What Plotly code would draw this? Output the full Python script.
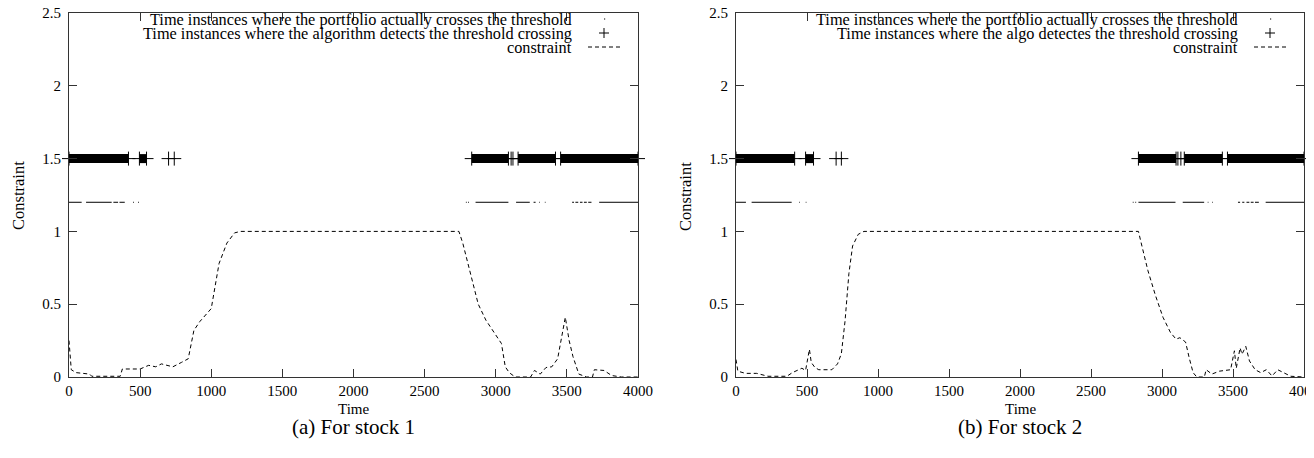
import plotly.graph_objects as go

# ---- data ----
CROSS_LEVEL = 1.2    # y level where real threshold crossings are marked
DETECT_LEVEL = 1.5   # y level where detected crossings are marked

stock1_time = [0, 16, 50, 145, 160, 360, 375, 500, 560, 610, 650, 700, 730, 790, 838, 878, 919, 1000, 1055, 1110,
               1164, 1205, 2741, 2768, 2822, 2877, 2931, 2986, 3040, 3067, 3095, 3136, 3245, 3272, 3313, 3353, 3394,
               3435, 3462, 3489, 3516, 3543, 3584, 3638, 3680, 3693, 3761, 3815, 3883, 4000]
stock1_constraint = [0.25, 0.05, 0.03, 0.02, 0.005, 0.005, 0.055, 0.055, 0.08, 0.07, 0.09, 0.08, 0.07, 0.1, 0.125,
                     0.32, 0.38, 0.47, 0.78, 0.92, 0.99, 1.0, 1.0, 0.92, 0.71, 0.5, 0.39, 0.31, 0.23, 0.07, 0.03, 0.0,
                     0.0, 0.045, 0.02, 0.065, 0.07, 0.125, 0.27, 0.41, 0.25, 0.14, 0.02, 0.0, 0.0, 0.05, 0.045, 0.01,
                     0.0, 0.0]

stock2_time = [0, 13, 66, 146, 225, 358, 397, 464, 490, 517, 530, 556, 583, 675, 715, 742, 768, 795, 821, 861, 901,
               2834, 2861, 2901, 2954, 3007, 3060, 3099, 3126, 3166, 3192, 3219, 3245, 3298, 3311, 3351, 3404, 3457,
               3483, 3510, 3523, 3550, 3563, 3590, 3616, 3656, 3695, 3735, 3775, 3815, 3854, 3907, 4000]
stock2_constraint = [0.12, 0.04, 0.025, 0.025, 0.005, 0.005, 0.03, 0.06, 0.045, 0.19, 0.1, 0.065, 0.05, 0.05, 0.09,
                     0.16, 0.385, 0.71, 0.9, 0.98, 1.0, 1.0, 0.89, 0.73, 0.56, 0.41, 0.305, 0.26, 0.27, 0.24, 0.13,
                     0.03, 0.0, 0.0, 0.05, 0.02, 0.04, 0.05, 0.05, 0.18, 0.06, 0.2, 0.156, 0.21, 0.11, 0.05, 0.03,
                     0.05, 0.007, 0.05, 0.03, 0.005, 0.0]

# runs of time steps where the portfolio actually crosses the threshold
stock1_cross_start = [0, 120, 312, 355, 450, 486, 2790, 2806, 2858, 3143, 3266, 3304, 3345, 3537, 3560, 3592, 3620,
                      3650, 3727]
stock1_cross_end = [89, 300, 345, 392, 456, 492, 2796, 2812, 3089, 3239, 3280, 3309, 3350, 3550, 3580, 3610, 3640,
                    3673, 4000]
stock2_cross_start = [0, 110, 444, 491, 2794, 2812, 2834, 3146, 3322, 3354, 3535, 3565, 3595, 3625, 3655, 3730]
stock2_cross_end = [70, 392, 449, 496, 2800, 2818, 3095, 3297, 3327, 3359, 3550, 3580, 3615, 3645, 3682, 4000]

# runs (and single instants) where the algorithm detects the crossing
stock1_detect_start = [0, 495, 2831, 3157, 3456]
stock1_detect_end = [418, 545, 3089, 3420, 4000]
stock1_detect_single = [700, 740, 3108, 3121]
stock2_detect_start = [0, 490, 2834, 3157, 3461]
stock2_detect_end = [413, 546, 3099, 3425, 4000]
stock2_detect_single = [705, 742, 3112, 3133]

x_ticks = [0, 500, 1000, 1500, 2000, 2500, 3000, 3500, 4000]
y_ticks = [0, 0.5, 1, 1.5, 2, 2.5]
y_tick_text = ["0", "0.5", "1", "1.5", "2", "2.5"]

legend1 = ["Time instances where the portfolio actually crosses the threshold",
           "Time instances where the algorithm detects the threshold crossing",
           "constraint"]
legend2 = ["Time instances where the portfolio actually crosses the threshold",
           "Time instances where the algo detectes the threshold crossing",
           "constraint"]
captions = ["(a) For stock 1", "(b) For stock 2"]

# ---- layout helpers ----
# the page body has an 8px margin, so the figure is drawn 8px in from the top-left
OFF = 8
W, H = 1314 - 2 * OFF, 458 - 2 * OFF
FONT = "Liberation Serif, Times New Roman, serif"


def px(x):
    return (x - OFF) / W


def py(y):
    return 1 - (y - OFF) / H


def runs(starts, ends, level):
    xs, ys = [], []
    for s, e in zip(starts, ends):
        xs += [s, e, None]
        ys += [level, level, None]
    return xs, ys


def note(text, x, y, size, **kw):
    return dict(text=text, x=px(x), y=py(y), xref="paper", yref="paper", showarrow=False,
                xanchor=kw.pop("xanchor", "center"), yanchor="middle",
                font=dict(family=FONT, size=size, color="black"), **kw)


fig = go.Figure()

panels = [
    dict(t=stock1_time, c=stock1_constraint, cs=stock1_cross_start, ce=stock1_cross_end,
         ds=stock1_detect_start, de=stock1_detect_end, d1=stock1_detect_single,
         left=69, right=638, legend=legend1, caption=captions[0]),
    dict(t=stock2_time, c=stock2_constraint, cs=stock2_cross_start, ce=stock2_cross_end,
         ds=stock2_detect_start, de=stock2_detect_end, d1=stock2_detect_single,
         left=736, right=1304, legend=legend2, caption=captions[1]),
]
top, bottom = 13, 377

annotations = []
shapes = []
for i, p in enumerate(panels):
    n = "" if i == 0 else str(i + 1)
    xa, ya = "x" + n, "y" + n

    cx, cy = runs(p["cs"], p["ce"], CROSS_LEVEL)
    fig.add_trace(go.Scatter(x=cx, y=cy, mode="lines", line=dict(color="black", width=1),
                             xaxis=xa, yaxis=ya, showlegend=False))
    dx, dy = runs(p["ds"], p["de"], DETECT_LEVEL)
    fig.add_trace(go.Scatter(x=dx, y=dy, mode="lines", line=dict(color="black", width=9),
                             xaxis=xa, yaxis=ya, showlegend=False))
    plus_x = p["ds"] + p["de"] + p["d1"]
    fig.add_trace(go.Scatter(x=plus_x, y=[DETECT_LEVEL] * len(plus_x), mode="markers",
                             marker=dict(symbol="cross-thin", size=10, line=dict(color="black", width=1)),
                             cliponaxis=False, xaxis=xa, yaxis=ya, showlegend=False))
    fig.add_trace(go.Scatter(x=p["t"], y=p["c"], mode="lines",
                             line=dict(color="black", width=1, dash="4px,3px"),
                             xaxis=xa, yaxis=ya, showlegend=False))

    axis_common = dict(showline=True, linecolor="#333", linewidth=1, mirror="ticks", ticks="inside",
                       ticklen=8, tickcolor="#333", showgrid=False, zeroline=False, automargin=False,
                       ticklabeloverflow="allow",
                       tickfont=dict(family=FONT, size=15, color="black"))
    fig.update_layout({
        "xaxis" + n: dict(domain=[px(p["left"]), px(p["right"])], range=[0, 4000], tickvals=x_ticks,
                          anchor=ya, **axis_common),
        "yaxis" + n: dict(domain=[py(bottom), py(top)], range=[0, 2.5], tickvals=y_ticks, ticktext=y_tick_text,
                          anchor=xa, ticklabelstandoff=4, **axis_common),
    })

    mid = (p["left"] + p["right"]) / 2
    annotations += [
        note("Time", mid, 409, 15),
        note("Constraint", p["left"] - 51, 196, 16.5, textangle=-90),
        note(p["caption"], mid, 427, 21),
    ]

    # gnuplot-style key: text right-aligned, sample on the right
    text_right = p["right"] - 64
    key_x = p["right"] - 34
    for k, label in enumerate(p["legend"]):
        annotations.append(note(label, text_right, 19 + 14 * k, 16.3, xanchor="right"))
    line_k = dict(color="black", width=1)
    shapes += [
        dict(type="line", xref="paper", yref="paper", x0=px(key_x), x1=px(key_x + 1.2),
             y0=py(19), y1=py(19), line=line_k),
        dict(type="line", xref="paper", yref="paper", x0=px(key_x - 5), x1=px(key_x + 5),
             y0=py(33), y1=py(33), line=line_k),
        dict(type="line", xref="paper", yref="paper", x0=px(key_x), x1=px(key_x),
             y0=py(28), y1=py(38), line=line_k),
        dict(type="line", xref="paper", yref="paper", x0=px(key_x - 16), x1=px(key_x + 16),
             y0=py(47), y1=py(47), line=dict(color="black", width=1, dash="4px,3px")),
    ]

fig.update_layout(width=W, height=H, margin=dict(l=0, r=0, t=0, b=0),
                  paper_bgcolor="white", plot_bgcolor="white",
                  annotations=annotations, shapes=shapes, showlegend=False)

fig.write_html("out.html")
